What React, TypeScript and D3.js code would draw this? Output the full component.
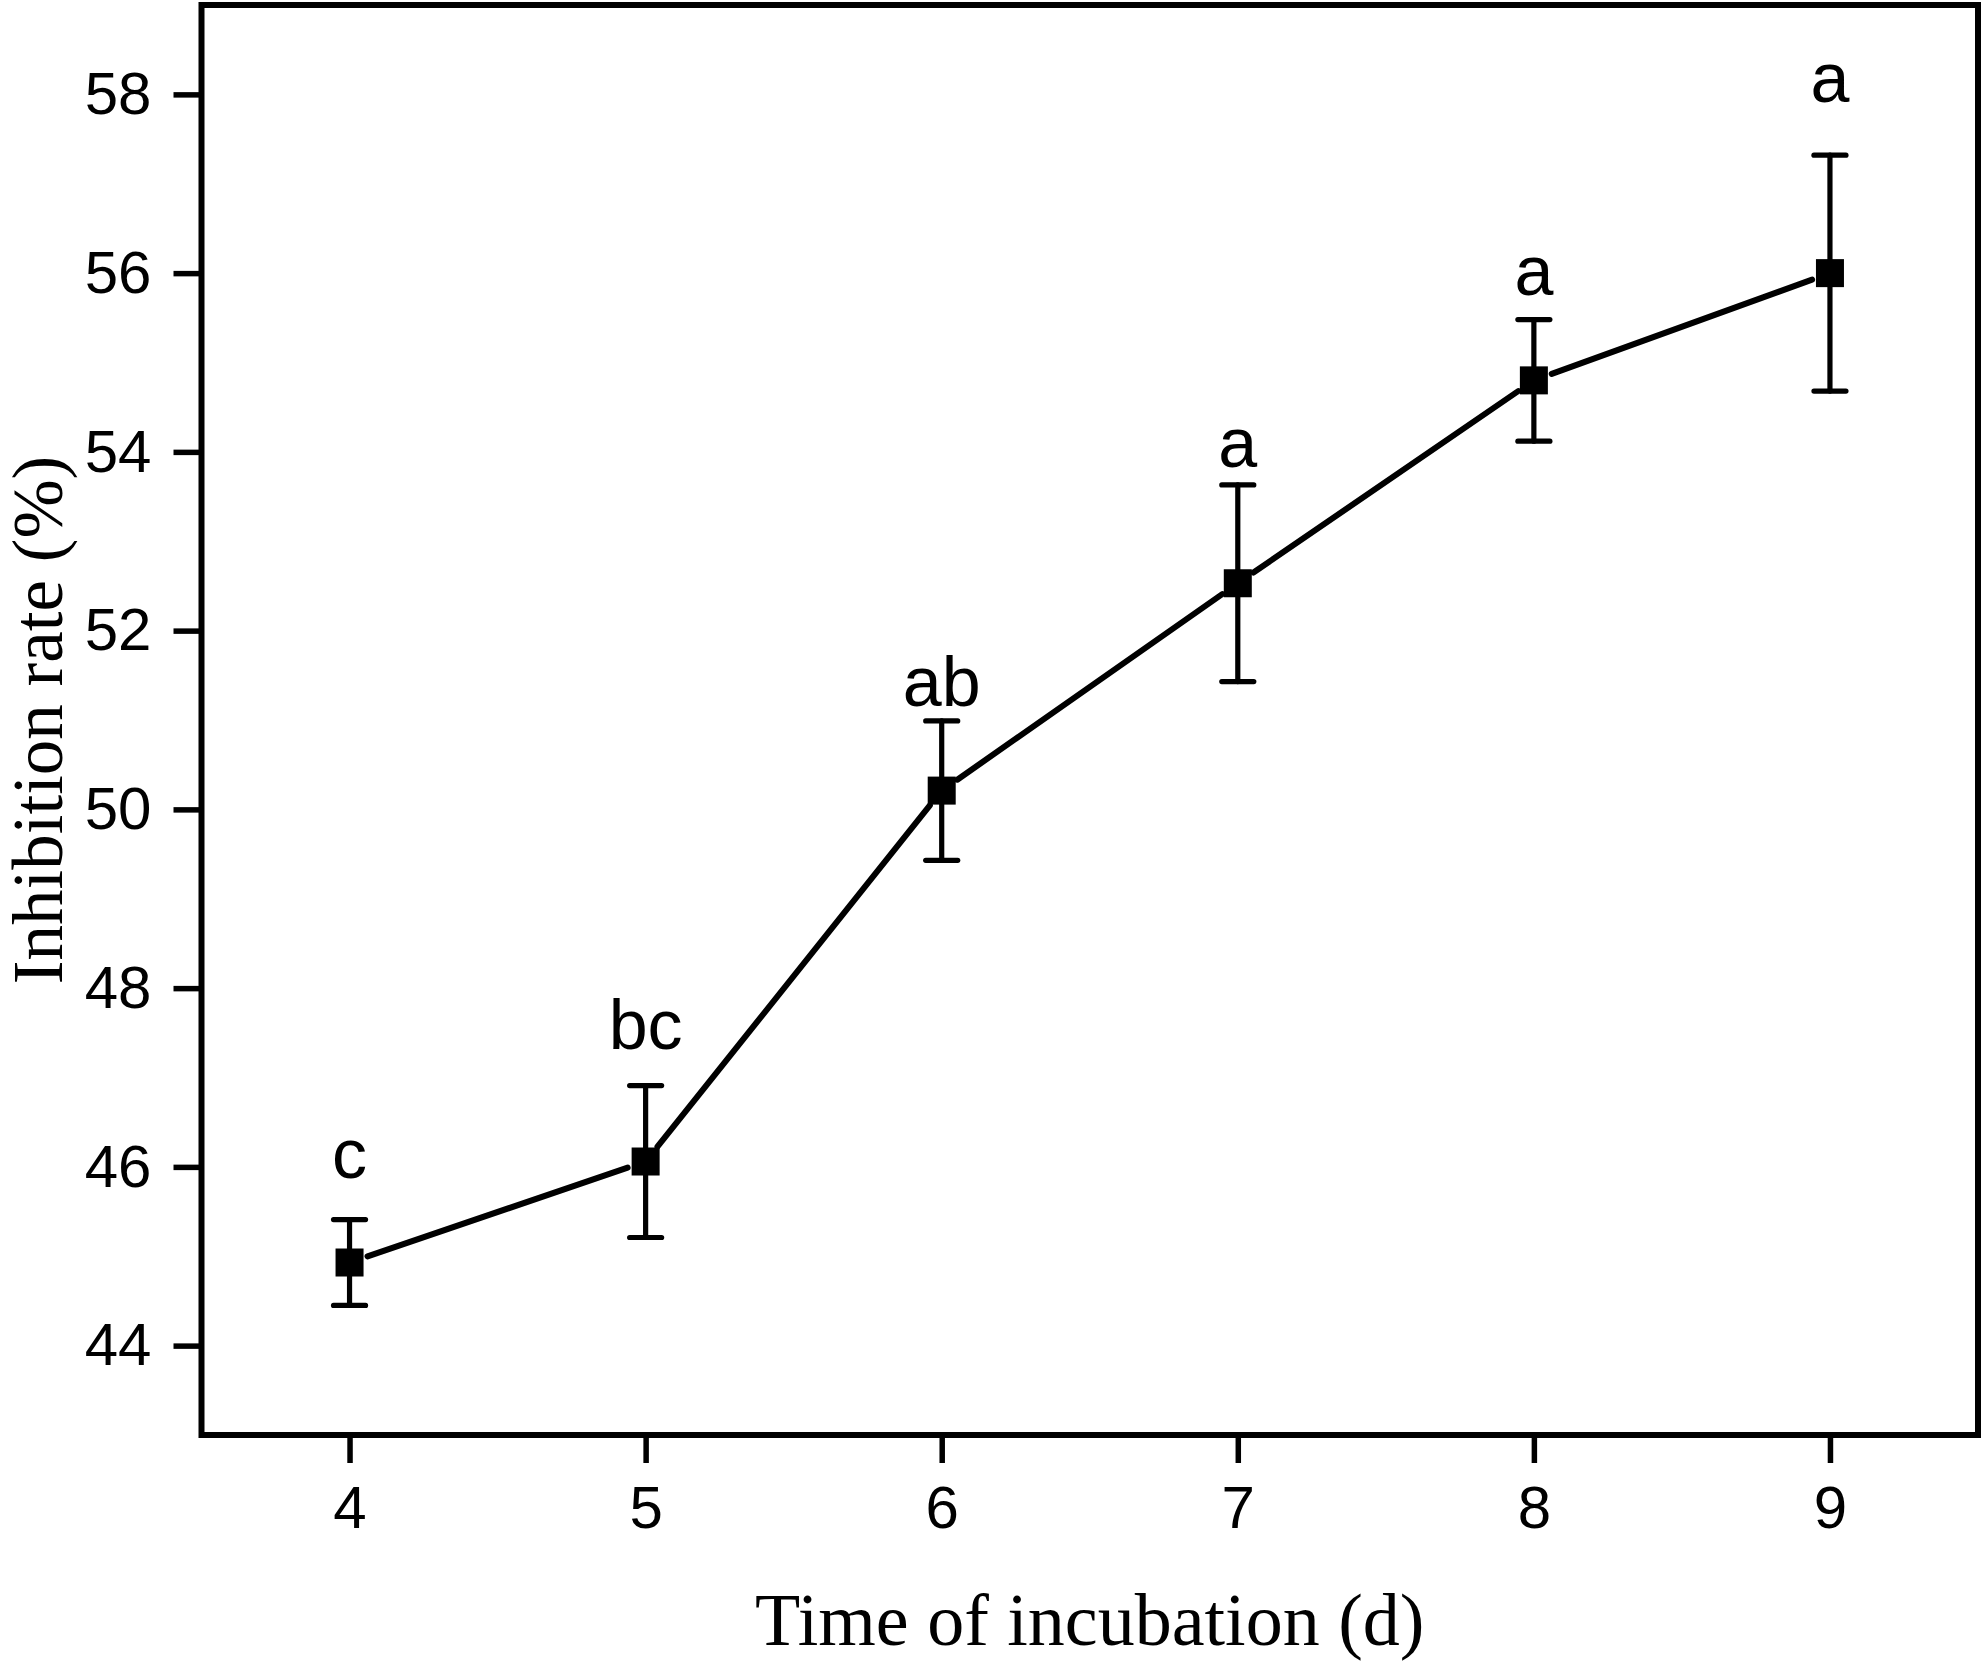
import * as d3 from 'd3';
import { useRef, useEffect } from 'react';

// days of incubation
const days = [4, 5, 6, 7, 8, 9];
// mean inhibition rate (%)
const means = [44.93, 46.06, 50.21, 52.53, 54.8, 56.0];
// standard error (+/-)
const errors = [0.48, 0.85, 0.78, 1.1, 0.68, 1.32];
// significance letters and the value where each one sits
const letters = ['c', 'bc', 'ab', 'a', 'a', 'a'];
const letterAt = [45.88, 47.32, 51.16, 53.83, 55.75, 57.92];

const xTicks = [4, 5, 6, 7, 8, 9];
const yTicks = [44, 46, 48, 50, 52, 54, 56, 58];

const W = 1983;
const H = 1663;
const margin = { top: 5, right: 5, bottom: 228, left: 201.5 };

const InhibitionChart: React.FC = () => {
  const ref = useRef<SVGSVGElement>(null);

  useEffect(() => {
    if (!ref.current) return;
    const svg = d3.select(ref.current);
    svg.selectAll('*').remove();

    const x = d3.scaleLinear().domain([3.5, 9.5]).range([margin.left, W - margin.right]);
    const y = d3.scaleLinear().domain([43, 59]).range([H - margin.bottom, margin.top]);

    const sans = '"Liberation Sans", Arial, sans-serif';
    const serif = '"Liberation Serif", "Times New Roman", serif';

    // axes
    const yAxis = svg.append('g')
      .attr('transform', `translate(${margin.left},0)`)
      .call(d3.axisLeft(y).tickValues(yTicks).tickSize(28).tickSizeOuter(0).tickPadding(22).tickFormat(d3.format('d')));
    const xAxis = svg.append('g')
      .attr('transform', `translate(0,${H - margin.bottom})`)
      .call(d3.axisBottom(x).tickValues(xTicks).tickSize(28).tickSizeOuter(0).tickPadding(22).tickFormat(d3.format('d')));

    [yAxis, xAxis].forEach(g => {
      g.select('.domain').remove();
      g.selectAll('.tick line').attr('stroke', '#000').attr('stroke-width', 5.5);
      g.selectAll('.tick text')
        .attr('fill', '#000')
        .style('font-family', sans)
        .style('font-size', '60px');
    });

    // frame
    svg.append('rect')
      .attr('x', margin.left)
      .attr('y', margin.top)
      .attr('width', W - margin.right - margin.left)
      .attr('height', H - margin.bottom - margin.top)
      .attr('fill', 'none')
      .attr('stroke', '#000')
      .attr('stroke-width', 6);

    const pts = days.map((d, i) => ({ x: x(d), y: y(means[i]) }));

    // connecting line, stopping a little short of each marker
    const gap = 19;
    const segs = d3.pairs(pts).map(([a, b]) => {
      const dx = b.x - a.x, dy = b.y - a.y;
      const len = Math.hypot(dx, dy);
      const ux = dx / len, uy = dy / len;
      return [[a.x + ux * gap, a.y + uy * gap], [b.x - ux * gap, b.y - uy * gap]] as [number, number][];
    });
    svg.append('g')
      .selectAll('path')
      .data(segs)
      .join('path')
      .attr('d', d => d3.line()(d))
      .attr('fill', 'none')
      .attr('stroke', '#000')
      .attr('stroke-width', 6)
      .attr('stroke-linecap', 'round');

    // error bars
    const capW = 16;
    const eb = svg.append('g').attr('stroke', '#000').attr('stroke-width', 5.2).attr('stroke-linecap', 'round');
    days.forEach((d, i) => {
      const cx = x(d);
      const y0 = y(means[i] - errors[i]);
      const y1 = y(means[i] + errors[i]);
      eb.append('line').attr('x1', cx).attr('x2', cx).attr('y1', y0).attr('y2', y1);
      eb.append('line').attr('x1', cx - capW).attr('x2', cx + capW).attr('y1', y0).attr('y2', y0);
      eb.append('line').attr('x1', cx - capW).attr('x2', cx + capW).attr('y1', y1).attr('y2', y1);
    });

    // square markers
    const ms = 28;
    svg.append('g')
      .selectAll('rect')
      .data(pts)
      .join('rect')
      .attr('x', d => d.x - ms / 2)
      .attr('y', d => d.y - ms / 2)
      .attr('width', ms)
      .attr('height', ms)
      .attr('fill', '#000');

    // significance letters
    svg.append('g')
      .selectAll('text')
      .data(letters)
      .join('text')
      .attr('x', (_, i) => x(days[i]))
      .attr('y', (_, i) => y(letterAt[i]))
      .attr('text-anchor', 'middle')
      .attr('fill', '#000')
      .style('font-family', sans)
      .style('font-size', '70px')
      .text(d => d);

    // axis titles
    svg.append('text')
      .attr('x', (margin.left + W - margin.right) / 2)
      .attr('y', 1645)
      .attr('text-anchor', 'middle')
      .attr('fill', '#000')
      .style('font-family', serif)
      .style('font-size', '74px')
      .text('Time of incubation (d)');

    svg.append('text')
      .attr('transform', `translate(62,${(margin.top + H - margin.bottom) / 2}) rotate(-90)`)
      .attr('text-anchor', 'middle')
      .attr('fill', '#000')
      .style('font-family', serif)
      .style('font-size', '71px')
      .text('Inhibition rate (%)');
  }, []);

  return (
    <svg
      ref={ref}
      width={W}
      height={H}
      style={{ position: 'absolute', left: 0, top: 0, background: '#fff', display: 'block' }}
    />
  );
};

export default function App() {
  return <InhibitionChart />;
}
